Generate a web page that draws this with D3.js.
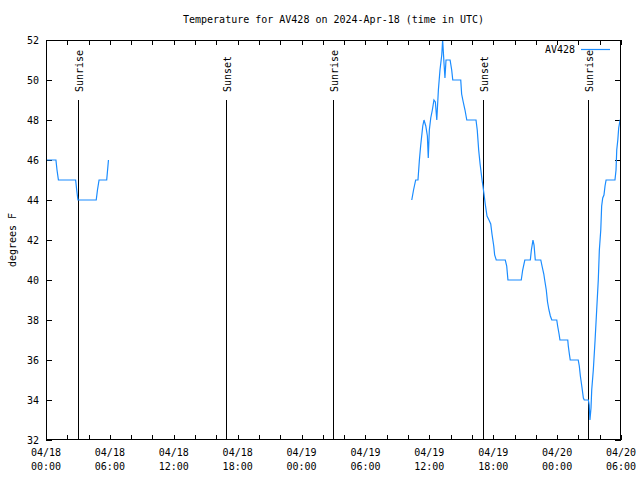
<!DOCTYPE html>
<html><head><meta charset="utf-8">
<script src="https://cdn.jsdelivr.net/npm/d3@7"></script>
<style>
body{margin:0;background:#fff;}
text{font-family:"DejaVu Sans Mono",monospace;font-size:10px;fill:#000;}
</style></head><body>
<script>
const times1 = ["2024-04-18 00:00","2024-04-18 00:56","2024-04-18 01:02","2024-04-18 01:10","2024-04-18 02:47","2024-04-18 02:53","2024-04-18 03:00","2024-04-18 04:43","2024-04-18 04:50","2024-04-18 04:59","2024-04-18 05:42","2024-04-18 05:47","2024-04-18 05:52"];
const temps1 = [46,46,45.5,45,45,44.5,44,44,44.5,45,45,45.5,46];

const times2 = ["2024-04-19 10:21","2024-04-19 10:31","2024-04-19 10:43","2024-04-19 10:56","2024-04-19 11:04","2024-04-19 11:11","2024-04-19 11:23","2024-04-19 11:30","2024-04-19 11:40","2024-04-19 11:49","2024-04-19 11:54","2024-04-19 12:00","2024-04-19 12:08","2024-04-19 12:17","2024-04-19 12:26","2024-04-19 12:34","2024-04-19 12:42","2024-04-19 12:51","2024-04-19 13:00","2024-04-19 13:10","2024-04-19 13:15","2024-04-19 13:23","2024-04-19 13:28","2024-04-19 13:34","2024-04-19 13:57","2024-04-19 14:06","2024-04-19 14:12","2024-04-19 14:57","2024-04-19 15:02","2024-04-19 15:11","2024-04-19 15:21","2024-04-19 15:31","2024-04-19 16:23","2024-04-19 16:30","2024-04-19 16:38","2024-04-19 16:46","2024-04-19 16:57","2024-04-19 17:02","2024-04-19 17:08","2024-04-19 17:15","2024-04-19 17:25","2024-04-19 17:36","2024-04-19 17:46","2024-04-19 17:53","2024-04-19 18:03","2024-04-19 18:08","2024-04-19 18:17","2024-04-19 19:08","2024-04-19 19:16","2024-04-19 19:23","2024-04-19 20:38","2024-04-19 20:46","2024-04-19 20:58","2024-04-19 21:29","2024-04-19 21:35","2024-04-19 21:44","2024-04-19 21:50","2024-04-19 21:57","2024-04-19 22:28","2024-04-19 22:35","2024-04-19 22:45","2024-04-19 22:50","2024-04-19 22:59","2024-04-19 23:06","2024-04-19 23:14","2024-04-19 23:22","2024-04-19 23:30","2024-04-19 23:58","2024-04-20 00:03","2024-04-20 00:11","2024-04-20 00:16","2024-04-20 01:00","2024-04-20 01:03","2024-04-20 01:09","2024-04-20 01:14","2024-04-20 01:59","2024-04-20 02:05","2024-04-20 02:11","2024-04-20 02:19","2024-04-20 02:28","2024-04-20 02:33","2024-04-20 02:56","2024-04-20 03:01","2024-04-20 03:05","2024-04-20 03:11","2024-04-20 03:15","2024-04-20 03:24","2024-04-20 03:34","2024-04-20 03:43","2024-04-20 03:52","2024-04-20 03:58","2024-04-20 04:06","2024-04-20 04:11","2024-04-20 04:17","2024-04-20 04:24","2024-04-20 04:30","2024-04-20 04:36","2024-04-20 05:26","2024-04-20 05:32","2024-04-20 05:36","2024-04-20 05:42","2024-04-20 05:47","2024-04-20 05:55","2024-04-20 06:00"];
const temps2 = [44,44.5,45,45,46,46.7,47.7,48,47.7,47.2,46.1,47.5,48.1,48.5,49,48.9,48,49.5,50.5,51.25,52,50.8,50.1,51,51,50.5,50,50,49.3,48.9,48.5,48,48,47.5,46.5,45.8,45,44.7,44.3,43.8,43.2,43,42.8,42.3,41.7,41.25,41,41,40.7,40,40,40.5,41,41,41.5,42,41.75,41,41,40.7,40.3,40,39.5,38.9,38.5,38.2,38,38,37.7,37.3,37,37,36.7,36.3,36,36,35.7,35.2,34.7,34.1,34,34,33.75,33,33.6,34.5,35.5,37,38.5,40,41.5,42.5,43.7,44.1,44.25,44.7,45,45,45.5,46.5,47,47.6,48,48];

const eventTimes = ["2024-04-18 03:00","2024-04-18 16:54","2024-04-19 02:57","2024-04-19 17:00","2024-04-20 02:56"];
const eventLabels = ["Sunrise","Sunset","Sunrise","Sunset","Sunrise"];

const yTicks = [32,34,36,38,40,42,44,46,48,50,52];
const xTickLabels = ["04/18 00:00","04/18 06:00","04/18 12:00","04/18 18:00","04/19 00:00","04/19 06:00","04/19 12:00","04/19 18:00","04/20 00:00","04/20 06:00"];

const title = "Temperature for AV428 on 2024-Apr-18 (time in UTC)";
const seriesName = "AV428";
const yLabel = "degrees F";
const lineColor = "#1a8cff";

const W = 640, H = 480;
const L = 46, R = 621, T = 40, B = 440;
const parse = d3.utcParse("%Y-%m-%d %H:%M");
const tStart = parse("2024-04-18 00:00"), tEnd = parse("2024-04-20 06:00");

const x = d3.scaleUtc().domain([tStart, tEnd]).range([L, R]);
const y = d3.scaleLinear().domain([32, 52]).range([B, T]);

const svg = d3.select("body").append("svg").attr("width", W).attr("height", H);

// clip
svg.append("clipPath").attr("id","clip").append("rect")
  .attr("x", L).attr("y", T).attr("width", R - L).attr("height", B - T);

// ticks every 2h (x), every 2 deg (y), inward, mirrored
const xTickTimes = d3.utcHour.every(2).range(tStart, d3.utcMinute.offset(tEnd, 1));
const tickLen = 5;
const tg = svg.append("g").attr("stroke", "#000").attr("stroke-width", 1).attr("shape-rendering","crispEdges");
xTickTimes.forEach(t => {
  const px = Math.round(x(t)) + 0.5;
  tg.append("line").attr("x1", px).attr("x2", px).attr("y1", B).attr("y2", B - tickLen);
  tg.append("line").attr("x1", px).attr("x2", px).attr("y1", T).attr("y2", T + tickLen);
});
yTicks.forEach(v => {
  const py = Math.round(y(v)) + 0.5;
  tg.append("line").attr("x1", L).attr("x2", L + tickLen + 1).attr("y1", py).attr("y2", py);
  tg.append("line").attr("x1", R).attr("x2", R - tickLen - 1).attr("y1", py).attr("y2", py);
});

// y tick labels
svg.append("g").selectAll("text").data(yTicks).join("text")
  .attr("x", L - 7).attr("y", d => y(d)).attr("dy", "0.35em")
  .attr("text-anchor", "end").text(d => d);

// x tick labels
const xl = svg.append("g");
xTickLabels.forEach((lab, i) => {
  const parts = lab.split(" ");
  const t = d3.utcHour.offset(tStart, i * 6);
  const tx = xl.append("text").attr("x", x(t)).attr("y", 456).attr("text-anchor", "middle");
  tx.append("tspan").attr("x", x(t)).text(parts[0]);
  tx.append("tspan").attr("x", x(t)).attr("dy", 14).text(parts[1]);
});

// event lines
const eg = svg.append("g");
eventTimes.forEach((et, i) => {
  const px = Math.round(x(parse(et))) + 0.5;
  eg.append("line").attr("x1", px).attr("x2", px).attr("y1", 100).attr("y2", B)
    .attr("stroke", "#000").attr("stroke-width", 1).attr("shape-rendering","crispEdges");
  eg.append("text").attr("transform", `translate(${px + 1},92) rotate(-90)`)
    .attr("dy", "0.35em").attr("text-anchor", "start").text(eventLabels[i]);
});

// data lines
const line = d3.line().x(d => x(d[0])).y(d => y(d[1]));
const seg1 = times1.map((t, i) => [parse(t), temps1[i]]);
const seg2 = times2.map((t, i) => [parse(t), temps2[i]]);
const dg = svg.append("g").attr("clip-path", "url(#clip)");
[seg1, seg2].forEach(s => {
  dg.append("path").datum(s).attr("d", line).attr("fill", "none")
    .attr("stroke", lineColor).attr("stroke-width", 1.2);
});

// border
svg.append("rect").attr("x", L + 0.5).attr("y", T + 0.5).attr("width", R - L - 1).attr("height", B - T - 1)
  .attr("fill", "none").attr("stroke", "#000").attr("stroke-width", 1).attr("shape-rendering","crispEdges");

// title
svg.append("text").attr("x", (L + R) / 2).attr("y", 23).attr("text-anchor", "middle").text(title);

// y label
svg.append("text").attr("transform", `translate(12,${(T + B) / 2}) rotate(-90)`)
  .attr("text-anchor", "middle").attr("dy", "0.35em").text(yLabel);

// legend
svg.append("text").attr("x", 575).attr("y", 49).attr("dy", "0.35em").attr("text-anchor", "end").text(seriesName);
svg.append("line").attr("x1", 581).attr("x2", 610).attr("y1", 49.5).attr("y2", 49.5)
  .attr("stroke", lineColor).attr("stroke-width", 1.2);
</script>
</body></html>
